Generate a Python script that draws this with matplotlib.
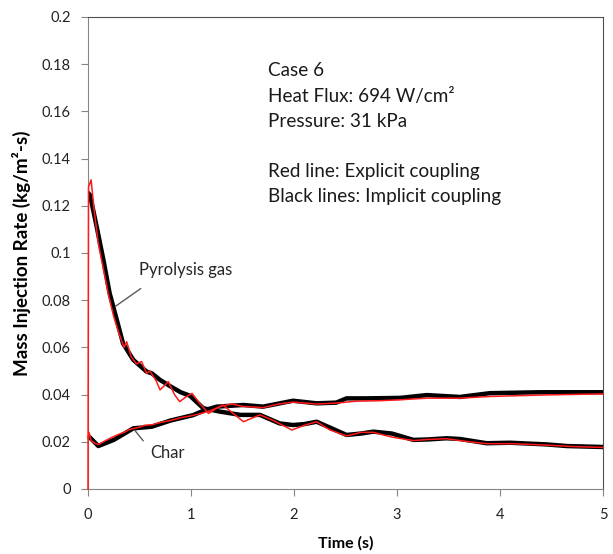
import numpy as np
import matplotlib
matplotlib.use("Agg")
import matplotlib.pyplot as plt
from matplotlib.ticker import FuncFormatter

plt.rcParams['font.family'] = ['Lato', 'DejaVu Sans']

# implicit coupling (black)
t_pyro_imp = [0, 0.02, 0.085, 0.15, 0.21, 0.28, 0.34, 0.44, 0.57, 0.62, 0.7, 0.8, 0.9, 0.99,
              1.12, 1.28, 1.48, 1.67, 1.86, 1.99, 2.1, 2.22, 2.35, 2.51, 2.65, 2.77, 2.95,
              3.16, 3.3, 3.48, 3.61, 3.87, 4.1, 4.45, 4.65, 5.0]
v_pyro_imp = [0.1255, 0.1245, 0.111, 0.097, 0.083, 0.0716, 0.0617, 0.0547, 0.0497, 0.049,
              0.0462, 0.0435, 0.041, 0.0395, 0.0342, 0.0328, 0.0314, 0.0314, 0.0278, 0.0271,
              0.0275, 0.0285, 0.026, 0.0229, 0.0235, 0.0243, 0.0235, 0.0208, 0.021, 0.0215,
              0.0212, 0.0194, 0.0196, 0.0189, 0.0182, 0.0178]

t_char_imp = [0, 0.01, 0.10, 0.25, 0.44, 0.62, 0.8, 1.02, 1.14, 1.25, 1.51, 1.70, 1.99,
              2.22, 2.41, 2.51, 2.7, 3.03, 3.29, 3.61, 3.90, 4.39, 5.0]
v_char_imp = [0.0215, 0.0222, 0.0182, 0.0208, 0.0257, 0.0264, 0.029, 0.0313, 0.0335,
              0.0349, 0.0356, 0.0349, 0.0374, 0.0363, 0.0366, 0.0384, 0.0384, 0.0386,
              0.0398, 0.039, 0.0406, 0.041, 0.041]

# explicit coupling (red)
t_pyro_exp = [0, 0.005, 0.03, 0.06, 0.1, 0.15, 0.2, 0.25, 0.3, 0.35, 0.375, 0.42, 0.47,
              0.52, 0.57, 0.6, 0.66, 0.7, 0.78, 0.84, 0.89, 0.95, 1.01, 1.09, 1.17, 1.24,
              1.31, 1.41, 1.51, 1.59, 1.67, 1.8, 1.98, 2.1, 2.22, 2.35, 2.51, 2.65, 2.77,
              2.95, 3.16, 3.3, 3.48, 3.7, 3.87, 4.1, 4.45, 4.7, 5.0]
v_pyro_exp = [0, 0.128, 0.131, 0.118, 0.104, 0.093, 0.082, 0.073, 0.066, 0.060, 0.0624,
              0.056, 0.053, 0.054, 0.049, 0.050, 0.046, 0.042, 0.0455, 0.040, 0.037, 0.039,
              0.0405, 0.036, 0.032, 0.034, 0.0356, 0.032, 0.0285, 0.030, 0.0314, 0.029,
              0.025, 0.027, 0.0285, 0.025, 0.0225, 0.024, 0.024, 0.022, 0.0205, 0.021,
              0.0213, 0.020, 0.0192, 0.0192, 0.0186, 0.018, 0.0176]

t_char_exp = [0, 0.01, 0.03, 0.06, 0.10, 0.15, 0.2, 0.25, 0.3, 0.35, 0.4, 0.44, 0.5, 0.55,
              0.62, 0.7, 0.8, 0.9, 1.0, 1.1, 1.2, 1.3, 1.4, 1.5, 1.7, 1.85, 1.99, 2.22,
              2.41, 2.6, 2.83, 3.03, 3.29, 3.61, 3.9, 4.39, 5.0]
v_char_exp = [0.0215, 0.0240, 0.0205, 0.0195, 0.0188, 0.0200, 0.0212, 0.0222, 0.0232,
              0.0240, 0.0252, 0.0256, 0.0262, 0.0270, 0.0272, 0.0282, 0.0290, 0.0302,
              0.0310, 0.0320, 0.0334, 0.0352, 0.0360, 0.0350, 0.0345, 0.0360, 0.0368,
              0.0360, 0.0364, 0.0372, 0.0374, 0.0378, 0.0385, 0.0385, 0.0392, 0.0398,
              0.0403]

info_lines = ["Case 6", "Heat Flux: 694 W/cm²", "Pressure: 31 kPa", "",
              "Red line: Explicit coupling", "Black lines: Implicit coupling"]

fig = plt.figure(figsize=(6.13, 5.54), dpi=100)
ax = fig.add_axes([88/613, 1-489/554, 515/613, 472/554])

ax.plot(t_pyro_imp, v_pyro_imp, color='black', lw=3.2, solid_capstyle='round')
ax.plot(t_char_imp, v_char_imp, color='black', lw=3.2, solid_capstyle='round')
ax.plot(t_pyro_exp, v_pyro_exp, color='#ff1a1a', lw=1.1, clip_on=False, zorder=4)
ax.plot(t_char_exp, v_char_exp, color='#ff1a1a', lw=1.1, clip_on=False, zorder=4)

ax.set_xlim(0, 5)
ax.set_ylim(0, 0.2)
ax.set_xticks(np.arange(0, 6, 1))
ax.set_yticks(np.arange(0, 0.21, 0.02))
ax.yaxis.set_major_formatter(FuncFormatter(lambda v, p: f'{v:g}'))
ax.tick_params(direction='out', length=5, color='#868686', labelsize=10.5,
               labelcolor='#222222')
ax.tick_params(axis='y', pad=7.5)
ax.tick_params(axis='x', pad=9)
for s in ['left', 'bottom']:
    ax.spines[s].set_color('#868686')
for s in ['top', 'right']:
    ax.spines[s].set_color('#505050')

ax.set_xlabel("Time (s)", fontsize=11.5, fontweight='bold', labelpad=10)
ax.set_ylabel("Mass Injection Rate (kg/m²-s)", fontsize=13.5, fontweight='bold', labelpad=8)

y0 = 0.8856
for i, line in enumerate(info_lines):
    ax.text(0.3495, y0 - i*0.053, line, transform=ax.transAxes, fontsize=13.6,
            va='center', ha='left', color='#1a1a1a')

ax.annotate('', xy=(0.243, 0.0767), xytext=(0.534, 0.0856),
            arrowprops=dict(arrowstyle='-', color='#595959', lw=1))
ax.text(0.495, 0.0928, "Pyrolysis gas", fontsize=12, va='center', ha='left', color='#262626')
ax.annotate('', xy=(0.437, 0.0258), xytext=(0.553, 0.0195),
            arrowprops=dict(arrowstyle='-', color='#595959', lw=1))
ax.text(0.60, 0.0153, "Char", fontsize=12, va='center', ha='left', color='#262626')

fig.savefig("out.png", dpi=100)
